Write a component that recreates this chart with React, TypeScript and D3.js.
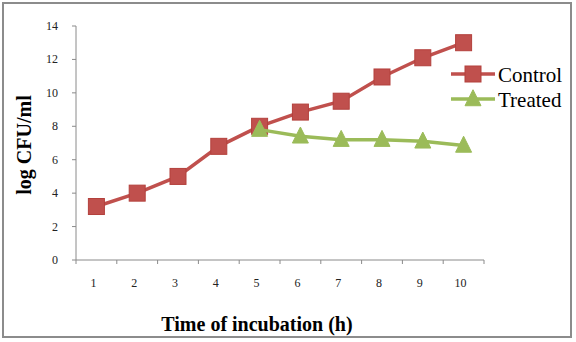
import React from "react";
import * as d3 from "d3";

const hours = [1, 2, 3, 4, 5, 6, 7, 8, 9, 10];
const controlValues = [3.2, 4.0, 5.0, 6.8, 8.0, 8.85, 9.5, 10.95, 12.1, 13.0];
const treatedHours = [5, 6, 7, 8, 9, 10];
const treatedValues = [7.8, 7.4, 7.2, 7.2, 7.1, 6.85];
const yTicks = [0, 2, 4, 6, 8, 10, 12, 14];

const W = 576, H = 342;
const left = 76, right = 484, top = 26, bottom = 260;

export default function App() {
  const x = d3.scaleBand<number>().domain(hours).range([left, right]);
  const xc = (h: number) => (x(h) as number) + x.bandwidth() / 2;
  const y = d3.scaleLinear().domain([0, 14]).range([bottom, top]);
  const line = d3.line<[number, number]>().x((d) => xc(d[0])).y((d) => y(d[1]));
  const ctrl: [number, number][] = hours.map((h, i) => [h, controlValues[i]]);
  const trt: [number, number][] = treatedHours.map((h, i) => [h, treatedValues[i]]);
  const red = "#C0504D", redDark = "#B3403C", green = "#9BBB59";
  const sq = 16;
  const tri = (cx: number, cy: number, s = 16) =>
    `M${cx},${cy - s * 0.58}L${cx + s / 2},${cy + s * 0.42}L${cx - s / 2},${cy + s * 0.42}Z`;
  const serif = "Liberation Serif";
  const gridColor = "#8a8a8a";
  return (
    <svg width={W} height={H} style={{ position: "absolute", left: 0, top: 0, background: "#fff" }}>
      <rect x={3} y={3} width={568} height={334} fill="#fff" stroke="#8c8c8c" strokeWidth={2} />
      {/* y axis */}
      <line x1={left} x2={left} y1={top} y2={bottom} stroke={gridColor} />
      {yTicks.map((t) => (
        <g key={t}>
          <line x1={left - 4} x2={left} y1={y(t)} y2={y(t)} stroke={gridColor} />
          <text x={58} y={y(t) + 4} textAnchor="end" fontFamily={serif} fontSize={12} fill="#222">
            {t}
          </text>
        </g>
      ))}
      {/* x axis */}
      <line x1={left} x2={right} y1={bottom} y2={bottom} stroke={gridColor} />
      {[...hours.map((h) => x(h) as number), right].map((p, i) => (
        <line key={i} x1={p} x2={p} y1={bottom} y2={bottom + 4} stroke={gridColor} />
      ))}
      {hours.map((h) => (
        <text key={h} x={xc(h) - 3} y={287} textAnchor="middle" fontFamily={serif} fontSize={12} fill="#222">
          {h}
        </text>
      ))}
      <text x={257} y={331} textAnchor="middle" fontFamily={serif} fontSize={20} fontWeight="bold">
        Time of incubation (h)
      </text>
      <text
        transform={`translate(31,145) rotate(-90)`}
        textAnchor="middle"
        fontFamily={serif}
        fontSize={20}
        fontWeight="bold"
      >
        log CFU/ml
      </text>
      {/* series */}
      <path d={line(ctrl) || ""} fill="none" stroke={red} strokeWidth={3.5} />
      {ctrl.map((d, i) => (
        <rect key={i} x={xc(d[0]) - sq / 2} y={y(d[1]) - sq / 2} width={sq} height={sq} fill={red} stroke={redDark} strokeWidth={1} />
      ))}
      <path d={line(trt) || ""} fill="none" stroke={green} strokeWidth={3.5} />
      {trt.map((d, i) => (
        <path key={i} d={tri(xc(d[0]), y(d[1]))} fill={green} stroke={green} strokeWidth={1} />
      ))}
      {/* legend */}
      <line x1={451} x2={495} y1={74} y2={74} stroke={red} strokeWidth={3.5} />
      <rect x={473 - sq / 2} y={74 - sq / 2} width={sq} height={sq} fill={red} stroke={redDark} />
      <text x={498} y={81.5} fontFamily={serif} fontSize={21}>Control</text>
      <line x1={451} x2={495} y1={99} y2={99} stroke={green} strokeWidth={3.5} />
      <path d={tri(473, 99)} fill={green} stroke={green} />
      <text x={498} y={106.5} fontFamily={serif} fontSize={21}>Treated</text>
    </svg>
  );
}
